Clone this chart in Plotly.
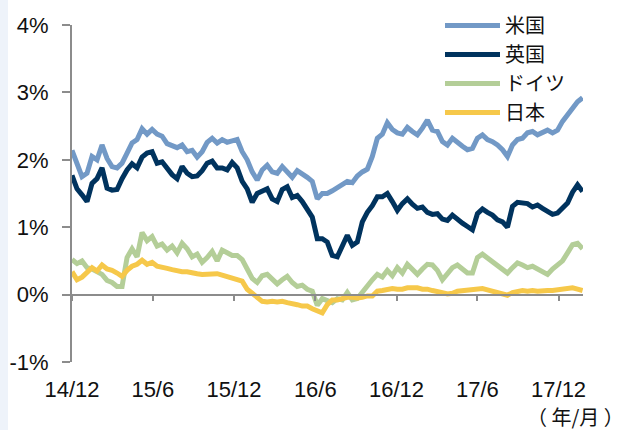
import pandas as pd
import plotly.graph_objects as go

# Sampling dates (about every 11 days, Dec 2014 - Jan 2018)
dates = pd.date_range("2014-12-01", "2018-01-24", periods=103)

# 10-year government bond yields (%)
us = [2.14, 1.92, 1.75, 1.80, 2.05, 2.00, 2.22, 2.02, 1.90, 1.88,
      1.95, 2.10, 2.25, 2.30, 2.46, 2.38, 2.45, 2.38, 2.35, 2.24,
      2.20, 2.18, 2.22, 2.12, 2.14, 2.04, 2.12, 2.26, 2.32, 2.25,
      2.30, 2.26, 2.28, 2.30, 2.12, 2.00, 1.82, 1.70, 1.85, 1.92,
      1.82, 1.80, 1.90, 1.82, 1.74, 1.84, 1.80, 1.74, 1.68, 1.42,
      1.50, 1.50, 1.54, 1.58, 1.62, 1.68, 1.66, 1.76, 1.82, 1.86,
      2.05, 2.32, 2.38, 2.55, 2.45, 2.40, 2.38, 2.48, 2.42, 2.37,
      2.47, 2.59, 2.44, 2.42, 2.27, 2.22, 2.32, 2.25, 2.20, 2.15,
      2.17, 2.32, 2.37, 2.30, 2.27, 2.22, 2.15, 2.05, 2.22, 2.30,
      2.32, 2.40, 2.42, 2.37, 2.40, 2.44, 2.40, 2.44, 2.57, 2.66,
      2.76, 2.86, 2.92]

uk = [1.77, 1.57, 1.48, 1.38, 1.65, 1.72, 1.88, 1.58, 1.55, 1.56,
      1.72, 1.85, 1.94, 1.88, 2.04, 2.10, 2.12, 1.95, 1.97, 1.86,
      1.78, 1.72, 1.90, 1.80, 1.75, 1.76, 1.84, 1.95, 1.98, 1.88,
      1.88, 1.85, 1.96, 1.88, 1.68, 1.57, 1.37, 1.50, 1.54, 1.57,
      1.42, 1.38, 1.56, 1.60, 1.44, 1.47, 1.38, 1.27, 1.15, 0.83,
      0.83, 0.78, 0.58, 0.56, 0.72, 0.88, 0.73, 0.78, 1.08, 1.22,
      1.32, 1.45, 1.45, 1.50, 1.38, 1.25, 1.35, 1.42, 1.34, 1.28,
      1.30, 1.22, 1.19, 1.20, 1.12, 1.10, 1.18, 1.11, 1.06, 1.01,
      0.96, 1.20, 1.27, 1.22, 1.18, 1.11, 1.08, 1.00, 1.31, 1.37,
      1.36, 1.35, 1.30, 1.33, 1.28, 1.23, 1.19, 1.21, 1.28, 1.36,
      1.52, 1.63, 1.53]

de = [0.52, 0.46, 0.50, 0.40, 0.38, 0.34, 0.30, 0.21, 0.18, 0.12,
      0.12, 0.55, 0.68, 0.56, 0.92, 0.80, 0.86, 0.72, 0.75, 0.66,
      0.72, 0.62, 0.76, 0.68, 0.56, 0.60, 0.48, 0.55, 0.64, 0.50,
      0.66, 0.62, 0.58, 0.58, 0.52, 0.38, 0.24, 0.18, 0.28, 0.30,
      0.22, 0.16, 0.22, 0.27, 0.18, 0.12, 0.14, 0.08, 0.05, -0.16,
      -0.06, -0.10, -0.12, -0.06, -0.08, 0.03, -0.08, -0.06, 0.04, 0.12,
      0.22, 0.30, 0.26, 0.36, 0.28, 0.40, 0.32, 0.45, 0.38, 0.30,
      0.38, 0.45, 0.44, 0.36, 0.22, 0.32, 0.40, 0.44, 0.37, 0.32,
      0.32, 0.55, 0.60, 0.54, 0.49, 0.42, 0.37, 0.32, 0.40, 0.47,
      0.44, 0.40, 0.42, 0.38, 0.33, 0.30, 0.38, 0.44, 0.50, 0.62,
      0.74, 0.76, 0.68]

jp = [0.34, 0.22, 0.26, 0.34, 0.40, 0.35, 0.44, 0.38, 0.36, 0.32,
      0.27, 0.36, 0.42, 0.45, 0.51, 0.45, 0.48, 0.42, 0.41, 0.39,
      0.37, 0.35, 0.34, 0.34, 0.32, 0.31, 0.30, 0.30, 0.30, 0.31,
      0.29, 0.27, 0.25, 0.23, 0.20, 0.08, 0.02, -0.06, -0.10, -0.11,
      -0.10, -0.11, -0.10, -0.12, -0.13, -0.15, -0.17, -0.17, -0.21, -0.25,
      -0.27, -0.15, -0.08, -0.08, -0.06, -0.04, -0.04, -0.05, -0.04, -0.02,
      -0.02, 0.05, 0.06, 0.07, 0.09, 0.08, 0.08, 0.10, 0.10, 0.10,
      0.08, 0.08, 0.06, 0.05, 0.03, 0.01, 0.02, 0.05, 0.06, 0.06,
      0.07, 0.09, 0.09, 0.07, 0.05, 0.03, 0.01, -0.01, 0.03, 0.05,
      0.06, 0.05, 0.06, 0.05, 0.06, 0.06, 0.06, 0.07, 0.09, 0.10,
      0.10, 0.08, 0.06]

series = [("米国", us, "#7299C6"),
          ("英国", uk, "#00335E"),
          ("ドイツ", de, "#B4CE98"),
          ("日本", jp, "#F6C84A")]

tick_dates = ["2014-12-01", "2015-06-01", "2015-12-01", "2016-06-01",
              "2016-12-01", "2017-06-01", "2017-12-01"]
tick_text = ["14/12", "15/6", "15/12", "16/6", "16/12", "17/6", "17/12"]
y_ticks = [-1, 0, 1, 2, 3, 4]
y_text = ["-1%", "0%", "1%", "2%", "3%", "4%"]

W, H = 626, 430
ML, MR, MT, MB = 72, 43, 25, 68
PW, PH = W - ML - MR, H - MT - MB
AXIS_GREY = "#8C8C8C"
TEXT = "#111111"

fig = go.Figure()
for name, vals, color in series:
    fig.add_trace(go.Scatter(
        x=dates, y=vals, name=name, mode="lines",
        line=dict(color=color, width=5),
        hoverinfo="skip",
    ))

y_min, y_max = -1, 4
fig.update_layout(
    width=W, height=H,
    margin=dict(l=ML, r=MR, t=MT, b=MB, autoexpand=False),
    paper_bgcolor="white", plot_bgcolor="white",
    font=dict(family="Liberation Sans, Arial, Noto Sans CJK JP", size=22, color=TEXT),
    showlegend=True,
    legend=dict(
        x=(440 - ML) / PW, xanchor="left",
        y=1 + (MT - 6) / PH, yanchor="top",
        bgcolor="rgba(0,0,0,0)",
        font=dict(family="Noto Sans CJK JP, Liberation Sans", size=20, color=TEXT),
        itemwidth=55, tracegroupgap=0,
    ),
    xaxis=dict(
        type="date",
        range=["2014-12-01", "2018-01-25"],
        anchor="free", position=(0 - y_min) / (y_max - y_min),
        showline=True, linecolor=AXIS_GREY, linewidth=2,
        ticks="outside", ticklen=5, tickwidth=1.5, tickcolor=AXIS_GREY,
        tickvals=tick_dates, ticktext=tick_text,
        ticklabelstandoff=70,
        showgrid=False, zeroline=False, automargin=False,
    ),
    yaxis=dict(
        range=[y_min, y_max],
        showline=True, linecolor=AXIS_GREY, linewidth=2,
        ticks="outside", ticklen=8, tickwidth=1.5, tickcolor=AXIS_GREY,
        tickvals=y_ticks, ticktext=y_text,
        ticklabelstandoff=9,
        showgrid=False, zeroline=False, automargin=False,
    ),
    shapes=[dict(
        type="rect", xref="paper", yref="paper",
        x0=-ML / PW, x1=-(ML - 8) / PW,
        y0=-MB / PH, y1=1 + MT / PH,
        fillcolor="#EEF3FA", line=dict(width=0), layer="below",
    )],
    annotations=[dict(
        text="（ 年/月 ）", xref="paper", yref="paper",
        x=(626 - ML) / PW, xanchor="right",
        y=-(416 - MT - PH) / PH, yanchor="middle",
        showarrow=False,
        font=dict(family="Noto Sans CJK JP", size=20, color=TEXT),
    )],
)

fig.write_html("out.html")
